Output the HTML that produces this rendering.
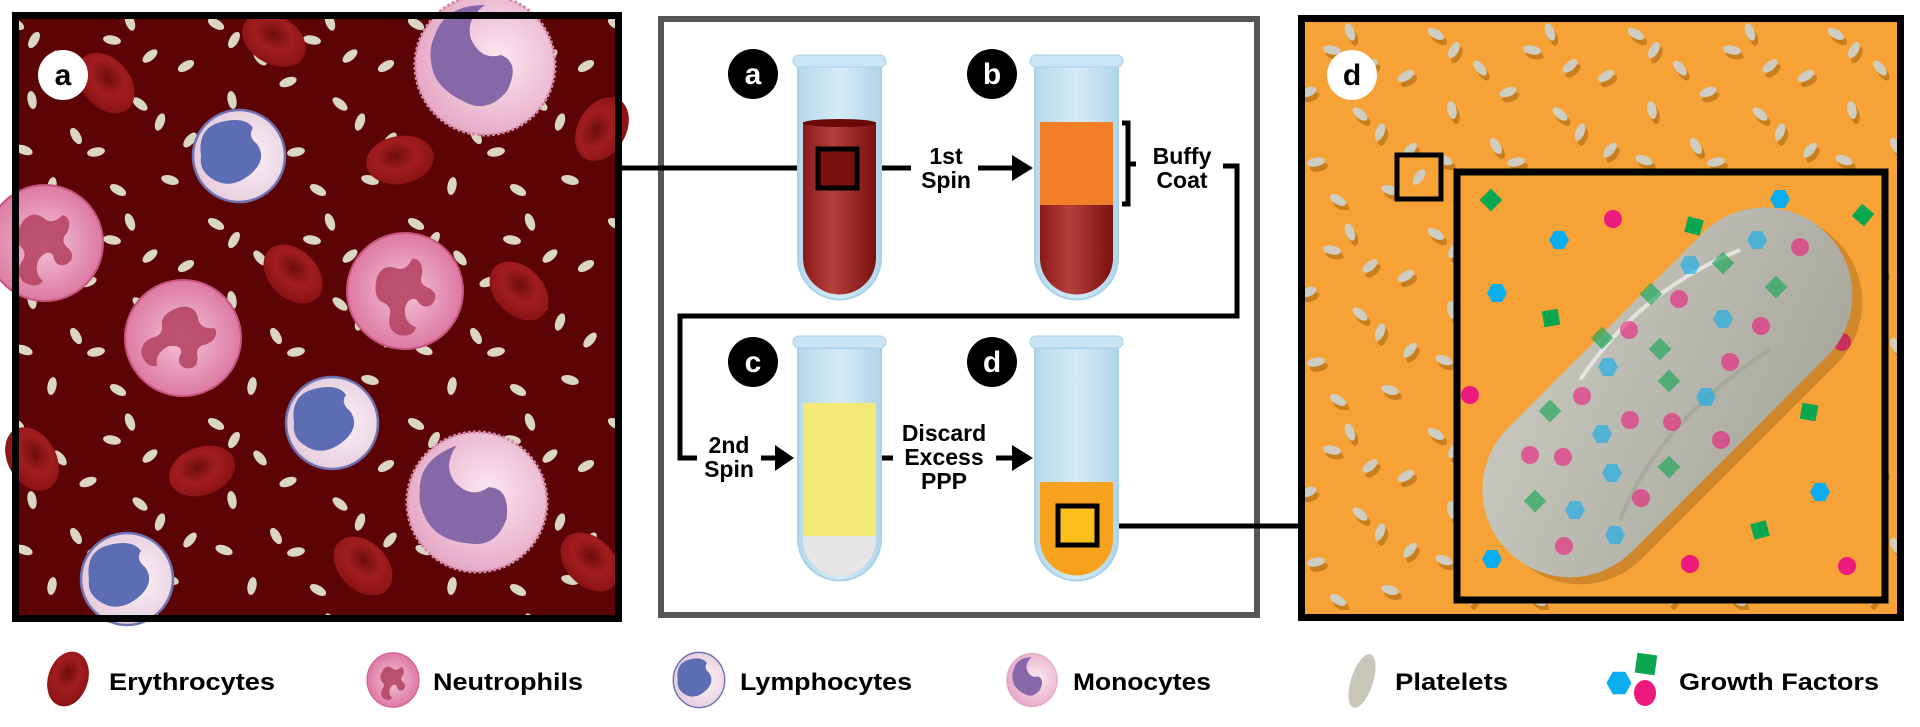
<!DOCTYPE html>
<html><head><meta charset="utf-8"><style>
html,body{margin:0;padding:0;background:#fff;width:1920px;height:727px;overflow:hidden}
svg{display:block}
text{font-family:"Liberation Sans",Arial,sans-serif;font-weight:bold}
</style></head><body>
<svg width="1920" height="727" viewBox="0 0 1920 727" xmlns="http://www.w3.org/2000/svg">
<defs>
<g id="pills">
<ellipse cx="16" cy="24" rx="9" ry="4.5" transform="rotate(30 16 24)"/>
<ellipse cx="34" cy="40" rx="9" ry="4.5" transform="rotate(-60 34 40)"/>
<ellipse cx="112" cy="40" rx="9" ry="4.5" transform="rotate(10 112 40)"/>
<ellipse cx="130" cy="22" rx="9" ry="4.5" transform="rotate(70 130 22)"/>
<ellipse cx="186" cy="66" rx="9" ry="4.5" transform="rotate(-30 186 66)"/>
<ellipse cx="32" cy="100" rx="9" ry="4.5" transform="rotate(80 32 100)"/>
<ellipse cx="88" cy="82" rx="9" ry="4.5" transform="rotate(-20 88 82)"/>
<ellipse cx="140" cy="104" rx="9" ry="4.5" transform="rotate(40 140 104)"/>
<ellipse cx="160" cy="122" rx="9" ry="4.5" transform="rotate(-70 160 122)"/>
<ellipse cx="24" cy="150" rx="9" ry="4.5" transform="rotate(20 24 150)"/>
<ellipse cx="76" cy="136" rx="9" ry="4.5" transform="rotate(60 76 136)"/>
<ellipse cx="96" cy="152" rx="9" ry="4.5" transform="rotate(-10 96 152)"/>
<ellipse cx="170" cy="180" rx="9" ry="4.5" transform="rotate(15 170 180)"/>
<ellipse cx="52" cy="186" rx="9" ry="4.5" transform="rotate(-80 52 186)"/>
<ellipse cx="118" cy="190" rx="9" ry="4.5" transform="rotate(30 118 190)"/>
<ellipse cx="150" cy="56" rx="9" ry="4.5" transform="rotate(-40 150 56)"/>
<ellipse cx="60" cy="58" rx="9" ry="4.5" transform="rotate(50 60 58)"/>
<ellipse cx="190" cy="140" rx="9" ry="4.5" transform="rotate(-50 190 140)"/>
</g>
<pattern id="pl" width="200" height="200" patternUnits="userSpaceOnUse"><use href="#pills" fill="#d9d6c4"/></pattern>
<pattern id="pr" width="200" height="200" patternUnits="userSpaceOnUse" patternTransform="translate(20 10)"><g transform="translate(3 5)"><use href="#pills" fill="#c97f20"/></g><use href="#pills" fill="#cfccc0"/></pattern>
<radialGradient id="rbc" cx="0.45" cy="0.4" r="0.6"><stop offset="0" stop-color="#6e0d0d"/><stop offset="0.5" stop-color="#a11d1f"/><stop offset="1" stop-color="#8a1214"/></radialGradient>
<radialGradient id="neu" cx="0.5" cy="0.5" r="0.5"><stop offset="0" stop-color="#f6c3d8"/><stop offset="1" stop-color="#dc7aa3"/></radialGradient>
<radialGradient id="mono" cx="0.6" cy="0.45" r="0.6"><stop offset="0" stop-color="#fbe7f0"/><stop offset="1" stop-color="#e6a9c6"/></radialGradient>
<radialGradient id="lym" cx="0.6" cy="0.5" r="0.6"><stop offset="0" stop-color="#fbf1f7"/><stop offset="1" stop-color="#e5cbdc"/></radialGradient>
<linearGradient id="glass" x1="0" x2="1"><stop offset="0" stop-color="#b6d9ec"/><stop offset="0.5" stop-color="#d5ebf5"/><stop offset="1" stop-color="#b0d5ea"/></linearGradient>
<linearGradient id="blood" x1="0" x2="1"><stop offset="0" stop-color="#8a1a1a"/><stop offset="0.4" stop-color="#b5403c"/><stop offset="1" stop-color="#7a1010"/></linearGradient>
<linearGradient id="platg" x1="0" y1="0" x2="1" y2="1"><stop offset="0" stop-color="#c9c8bf"/><stop offset="1" stop-color="#a8a79c"/></linearGradient>
<g id="rbcs"><ellipse rx="34" ry="24" fill="url(#rbc)"/></g>
<g id="neut"><circle r="58" fill="url(#neu)" stroke="#c9557f" stroke-width="2"/>
<path d="M-22,-22 q10,-12 22,-2 q8,6 18,-4 q10,4 4,18 q-8,8 2,16 q8,10 -4,16 q-10,2 -12,-10 q-6,-6 -14,4 q-6,14 4,22 q-6,8 -18,2 q-10,-8 -4,-20 q8,-10 -2,-18 q-6,-8 4,-24z" fill="#b3405f" opacity="0.85"/></g>
<g id="lymph"><circle r="46" fill="url(#lym)" stroke="#6e72b0" stroke-width="2.5"/>
<path d="M-38,0 q-4,-28 20,-34 q24,-6 32,6 q-6,8 4,16 q10,14 -4,28 q-22,20 -42,6 q-12,-8 -10,-22z" fill="#5c6db3"/></g>
<g id="monoc"><circle r="70" fill="url(#mono)" stroke="#d38aa9" stroke-width="3" stroke-dasharray="3 2"/>
<path d="M-50,-30 q10,-30 50,-30 q-20,14 -14,34 q10,22 30,16 q20,8 6,36 q-20,24 -44,10 q-30,-14 -32,-40 q-2,-14 4,-26z" fill="#8667a8"/></g>
<g id="hex"><polygon points="-10,0 -5,-9 5,-9 10,0 5,9 -5,9" fill="#0aaeef"/></g>
<g id="dia"><rect x="-8" y="-8" width="16" height="16" fill="#0aa650"/></g>
<g id="dot"><circle r="9" fill="#ec1a7c"/></g>
</defs>

<!-- LEFT PANEL -->
<rect x="15" y="15" width="604" height="604" fill="#5c0405"/>
<rect x="15" y="15" width="604" height="604" fill="url(#pl)"/>
<g>
<use href="#rbcs" transform="translate(106 83) rotate(50)"/>
<use href="#rbcs" transform="translate(274 40) rotate(30)"/>
<use href="#rbcs" transform="translate(400 160) rotate(-10)"/>
<use href="#rbcs" transform="translate(602 129) rotate(-60)"/>
<use href="#rbcs" transform="translate(293 274) rotate(45)"/>
<use href="#rbcs" transform="translate(519 291) rotate(45)"/>
<use href="#rbcs" transform="translate(32 459) rotate(60)"/>
<use href="#rbcs" transform="translate(202 471) rotate(-20)"/>
<use href="#rbcs" transform="translate(363 566) rotate(45)"/>
<use href="#rbcs" transform="translate(590 562) rotate(45)"/>
</g>
<use href="#monoc" transform="translate(485 65)"/>
<use href="#lymph" transform="translate(239 156)"/>
<use href="#neut" transform="translate(45 243)"/>
<use href="#neut" transform="translate(183 338) rotate(40)"/>
<use href="#neut" transform="translate(405 291) rotate(-20)"/>
<use href="#lymph" transform="translate(332 423)"/>
<use href="#monoc" transform="translate(477 502) rotate(-20)"/>
<use href="#lymph" transform="translate(127 579)"/>
<rect x="15.5" y="15.5" width="603" height="603" fill="none" stroke="#000" stroke-width="7"/>
<circle cx="63" cy="75" r="25" fill="#fff"/>
<text x="63" y="85" font-size="30" text-anchor="middle" fill="#000">a</text>

<!-- MIDDLE PANEL -->
<rect x="661" y="19" width="596" height="596" fill="#fff" stroke="#555" stroke-width="6"/>
<g stroke="#000" stroke-width="5" fill="none">
<line x1="619" y1="168" x2="818" y2="168"/>
<line x1="881" y1="168" x2="911" y2="168"/>
<line x1="978" y1="168" x2="1015" y2="168"/>
<polyline points="1223,166 1237,166 1237,316 680,316 680,458 697,458"/>
<line x1="761" y1="458" x2="778" y2="458"/>
<line x1="881" y1="458" x2="893" y2="458"/>
<line x1="996" y1="458" x2="1015" y2="458"/>
<line x1="1099" y1="526" x2="1298" y2="526"/>
<polyline points="1122,123 1128,123 1128,204 1122,204"/>
<line x1="1128" y1="164" x2="1136" y2="164"/>
</g>
<g fill="#000">
<polygon points="1012,155 1033,168 1012,181"/>
<polygon points="775,445 794,458 775,471"/>
<polygon points="1012,445 1033,458 1012,471"/>
</g>
<path d="M798,64 V258 A41.5,41.5 0 0 0 881,258 V64Z" fill="url(#glass)" stroke="#a9d2e8" stroke-width="2"/>
<rect x="793" y="55" width="93" height="12" rx="6" fill="#c9e4f2" stroke="#a9d2e8"/>
<path d="M803,122 V258 A36.5,36.5 0 0 0 876,258 V122Z" fill="url(#blood)"/>
<ellipse cx="839.5" cy="123" rx="36.5" ry="4" fill="#6b0808"/>
<rect x="818" y="149" width="39" height="39" fill="#7a1010" stroke="#000" stroke-width="5"/>
<path d="M1035,64 V258 A41.5,41.5 0 0 0 1118,258 V64Z" fill="url(#glass)" stroke="#a9d2e8" stroke-width="2"/>
<rect x="1030" y="55" width="93" height="12" rx="6" fill="#c9e4f2" stroke="#a9d2e8"/>
<rect x="1040" y="122" width="73" height="84" fill="#f07f28"/>
<path d="M1040,205 V258 A36.5,36.5 0 0 0 1113,258 V205Z" fill="url(#blood)"/>
<path d="M798,348 V539 A41.5,41.5 0 0 0 881,539 V348Z" fill="url(#glass)" stroke="#a9d2e8" stroke-width="2"/>
<rect x="793" y="336" width="93" height="12" rx="6" fill="#c9e4f2" stroke="#a9d2e8"/>
<path d="M803,403 V539 A36.5,36.5 0 0 0 876,539 V403Z" fill="#f3e978"/>
<path d="M803,539 A36.5,36.5 0 0 0 876,539Z" fill="#e6e6e6"/>
<rect x="803" y="536" width="73" height="4" fill="#e6e6e6"/>
<path d="M1035,348 V539 A41.5,41.5 0 0 0 1118,539 V348Z" fill="url(#glass)" stroke="#a9d2e8" stroke-width="2"/>
<rect x="1030" y="336" width="93" height="12" rx="6" fill="#c9e4f2" stroke="#a9d2e8"/>
<path d="M1040,482 V539 A36.5,36.5 0 0 0 1113,539 V482Z" fill="#f7a21f"/>
<rect x="1058" y="506" width="39" height="39" fill="#fcbf1c" stroke="#000" stroke-width="5"/>
<g fill="#000"><circle cx="753" cy="74" r="25"/><circle cx="992" cy="74" r="25"/><circle cx="753" cy="362" r="25"/><circle cx="992" cy="362" r="25"/></g>
<g fill="#fff" font-size="30" text-anchor="middle">
<text x="753" y="84">a</text><text x="992" y="84">b</text><text x="753" y="372">c</text><text x="992" y="372">d</text></g>
<g font-size="23" text-anchor="middle" fill="#000">
<text x="946" y="164">1st</text><text x="946" y="188">Spin</text>
<text x="1182" y="164">Buffy</text><text x="1182" y="188">Coat</text>
<text x="729" y="453">2nd</text><text x="729" y="477">Spin</text>
<text x="944" y="441">Discard</text><text x="944" y="465">Excess</text><text x="944" y="489">PPP</text>
</g>

<!-- RIGHT PANEL -->
<rect x="1298" y="15" width="606" height="604" fill="#f6a237"/>
<rect x="1298" y="15" width="606" height="604" fill="url(#pr)"/>
<rect x="1457" y="172" width="428" height="428" fill="#f6a237" stroke="#000" stroke-width="7"/>
<rect x="1397" y="155" width="44" height="44" fill="#f6a237" stroke="#000" stroke-width="5"/>
<ellipse cx="1419" cy="177" rx="9" ry="4.5" transform="rotate(-55 1419 177)" fill="#cfccc0"/>
<circle cx="1352" cy="75" r="25" fill="#fff"/>
<text x="1352" y="85" font-size="30" text-anchor="middle" fill="#000">d</text>
<use href="#dia" transform="translate(1491 200) rotate(45)"/>
<use href="#dot" transform="translate(1613 219)"/>
<use href="#hex" transform="translate(1559 240)"/>
<use href="#dia" transform="translate(1694 226) rotate(15)"/>
<use href="#hex" transform="translate(1780 199)"/>
<use href="#dia" transform="translate(1863 215) rotate(40)"/>
<use href="#hex" transform="translate(1497 293)"/>
<use href="#dia" transform="translate(1551 318) rotate(-10)"/>
<use href="#dot" transform="translate(1842 342)"/>
<use href="#dot" transform="translate(1470 395)"/>
<use href="#dia" transform="translate(1809 412) rotate(10)"/>
<use href="#hex" transform="translate(1820 492)"/>
<use href="#dia" transform="translate(1760 530) rotate(-15)"/>
<use href="#dot" transform="translate(1690 564)"/>
<use href="#dot" transform="translate(1847 566)"/>
<use href="#hex" transform="translate(1492 559)"/>
<rect x="1452" y="312" width="450" height="175" rx="87" transform="rotate(-45 1677 399)" fill="#8a5a16" opacity="0.35"/>
<rect x="1442" y="305" width="450" height="175" rx="87" transform="rotate(-45 1667 392)" fill="url(#platg)"/>
<path d="M1580,380 q60,-90 160,-130" stroke="#eeeee8" stroke-width="4" fill="none" opacity="0.8"/>
<path d="M1620,520 q40,-100 150,-170" stroke="#9c9b90" stroke-width="4" fill="none" opacity="0.5"/>
<g opacity="0.6">
<use href="#hex" transform="translate(1757 240)"/><use href="#dot" transform="translate(1800 247)"/>
<use href="#hex" transform="translate(1690 265)"/><use href="#dia" transform="translate(1723 263) rotate(45)"/>
<use href="#dia" transform="translate(1776 287) rotate(45)"/><use href="#dia" transform="translate(1651 294) rotate(45)"/>
<use href="#dot" transform="translate(1679 299)"/><use href="#hex" transform="translate(1723 319)"/>
<use href="#dot" transform="translate(1761 326)"/><use href="#dot" transform="translate(1629 330)"/>
<use href="#dia" transform="translate(1602 338) rotate(45)"/><use href="#dia" transform="translate(1660 349) rotate(45)"/>
<use href="#dot" transform="translate(1730 362)"/><use href="#hex" transform="translate(1608 367)"/>
<use href="#dia" transform="translate(1669 381) rotate(45)"/><use href="#dot" transform="translate(1582 396)"/>
<use href="#hex" transform="translate(1706 397)"/><use href="#dia" transform="translate(1550 411) rotate(45)"/>
<use href="#dot" transform="translate(1630 420)"/><use href="#dot" transform="translate(1672 422)"/>
<use href="#hex" transform="translate(1602 434)"/><use href="#dot" transform="translate(1721 440)"/>
<use href="#dot" transform="translate(1530 455)"/><use href="#dot" transform="translate(1563 457)"/>
<use href="#hex" transform="translate(1612 473)"/><use href="#dia" transform="translate(1669 467) rotate(45)"/>
<use href="#dot" transform="translate(1641 498)"/><use href="#dia" transform="translate(1535 501) rotate(45)"/>
<use href="#hex" transform="translate(1575 510)"/><use href="#hex" transform="translate(1615 535)"/>
<use href="#dot" transform="translate(1564 546)"/>
</g>
<rect x="1301.5" y="18.5" width="599" height="599" fill="none" stroke="#000" stroke-width="7"/>

<!-- LEGEND -->
<ellipse cx="68" cy="679" rx="20" ry="28" transform="rotate(18 68 679)" fill="url(#rbc)"/>
<g transform="translate(393 680) scale(0.45 0.47)"><use href="#neut"/></g>
<g transform="translate(699 680) scale(0.56 0.6)"><use href="#lymph"/></g>
<g transform="translate(1032 680) scale(0.36 0.38)"><use href="#monoc"/></g>
<ellipse cx="1362" cy="681" rx="11" ry="28" transform="rotate(18 1362 681)" fill="#c8c7ba"/>
<use href="#hex" transform="translate(1619 683) scale(1.25)"/>
<rect x="1636" y="654" width="20" height="20" fill="#0aa650" transform="rotate(8 1646 664)"/>
<ellipse cx="1645" cy="693" rx="11" ry="13" fill="#ec1a7c"/>
<g font-size="24" fill="#000">
<text x="109" y="690" textLength="166" lengthAdjust="spacingAndGlyphs">Erythrocytes</text>
<text x="433" y="690" textLength="150" lengthAdjust="spacingAndGlyphs">Neutrophils</text>
<text x="740" y="690" textLength="172" lengthAdjust="spacingAndGlyphs">Lymphocytes</text>
<text x="1073" y="690" textLength="138" lengthAdjust="spacingAndGlyphs">Monocytes</text>
<text x="1395" y="690" textLength="113" lengthAdjust="spacingAndGlyphs">Platelets</text>
<text x="1679" y="690" textLength="200" lengthAdjust="spacingAndGlyphs">Growth Factors</text>
</g>
</svg>
</body></html>
